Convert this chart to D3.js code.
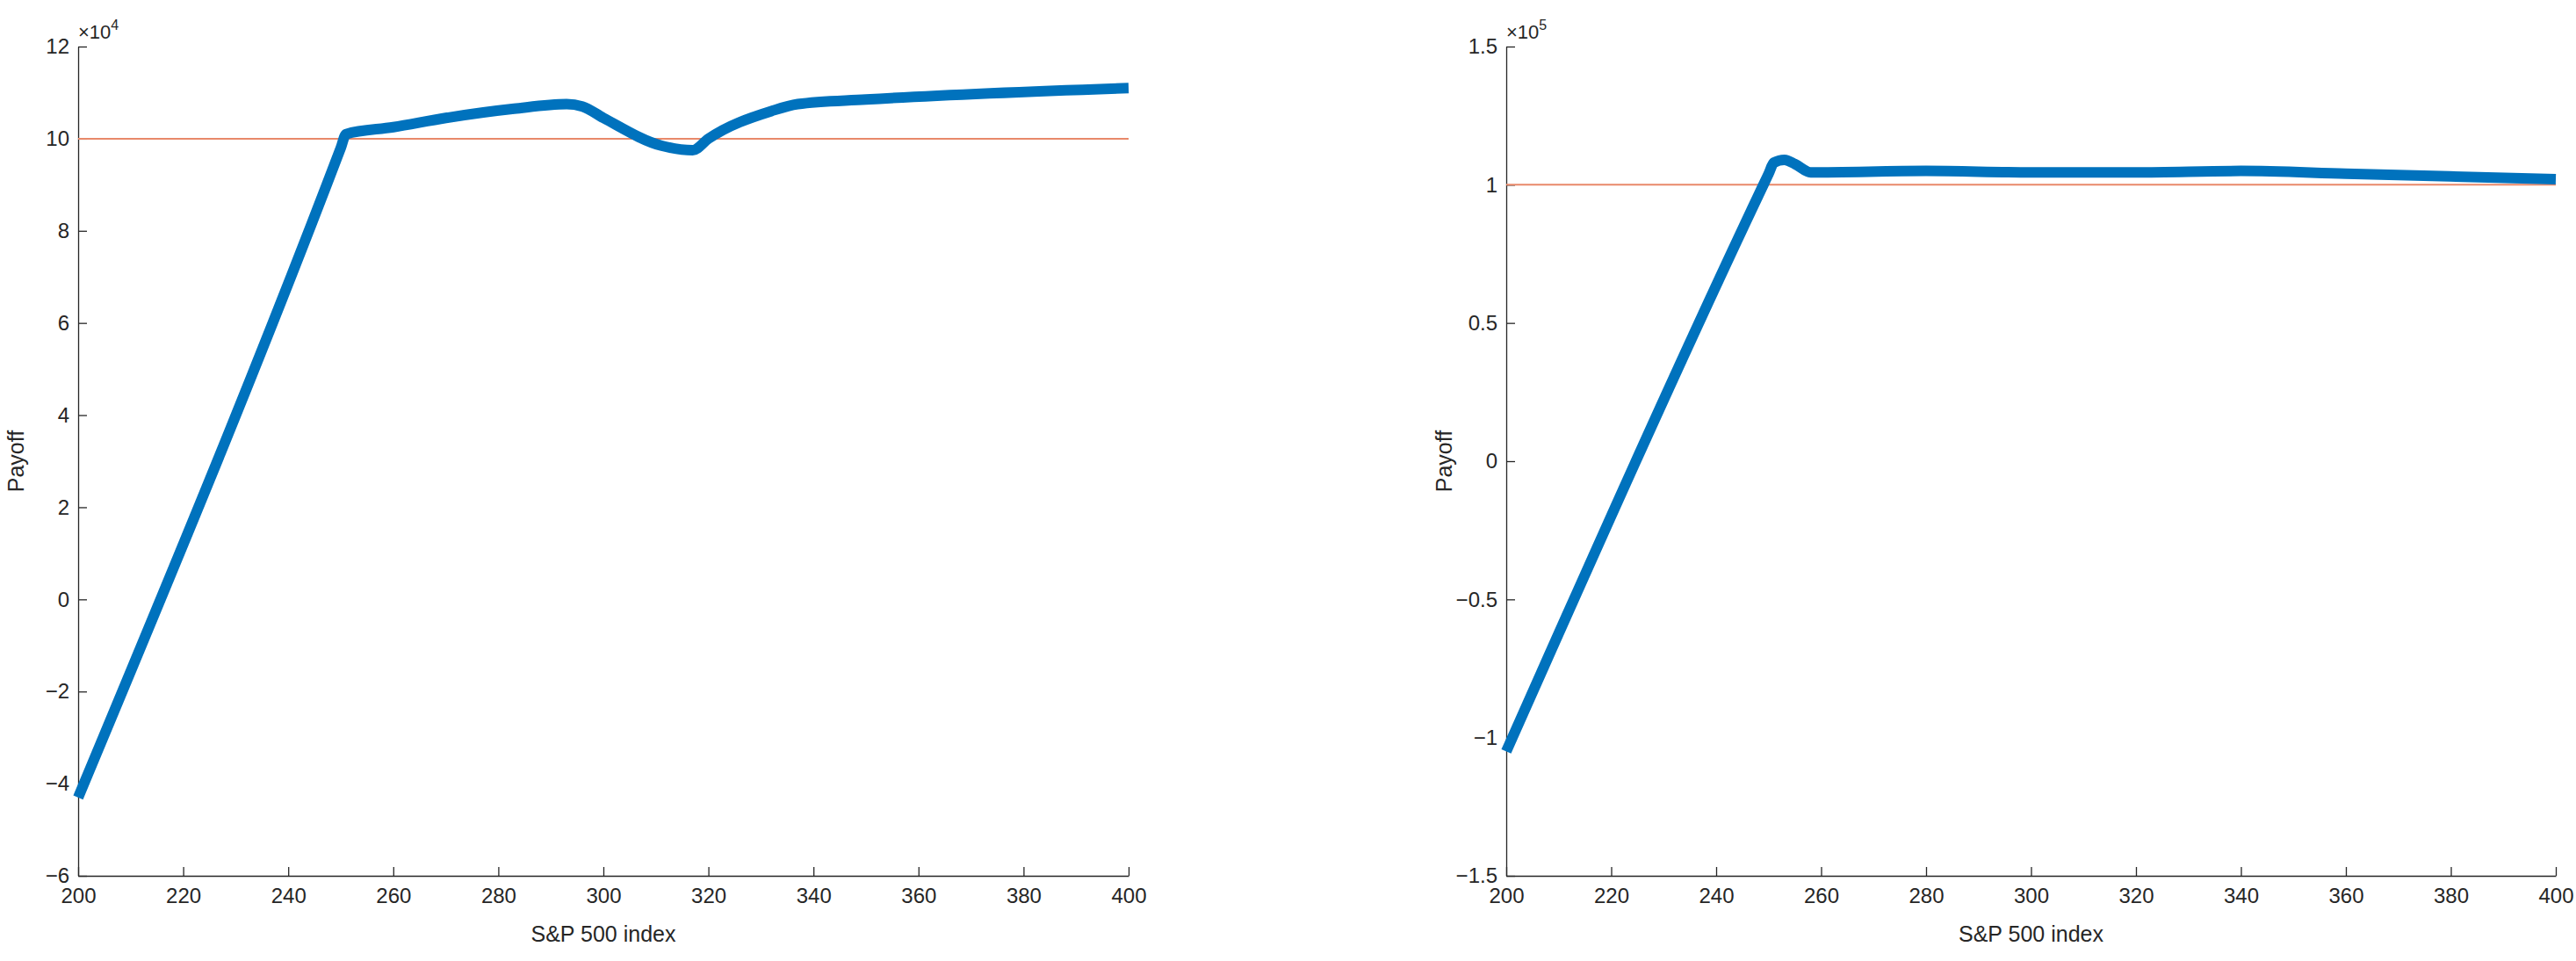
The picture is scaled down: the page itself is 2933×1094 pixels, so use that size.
<!DOCTYPE html>
<html>
<head>
<meta charset="utf-8">
<script src="https://cdn.jsdelivr.net/npm/d3@7"></script>
<style>
body { margin: 0; background: #fff; }
text { font-family: "Liberation Sans", Arial, sans-serif; fill: #262626; }
</style>
</head>
<body>
<script>
// left panel, payoff in units of 1e4
var leftX = [200, 250, 251, 260, 270, 283, 293, 296, 300, 311, 317, 320, 332, 337, 350, 400]
var leftY = [-4.3, 9.8, 10.1, 10.25, 10.45, 10.65, 10.75, 10.7, 10.45, 9.85, 9.75, 10.0, 10.6, 10.75, 10.85, 11.1]
var leftTicks = [-6, -4, -2, 0, 2, 4, 6, 8, 10, 12]

// right panel, payoff in units of 1e5
var rightX = [200, 249, 250, 251, 253, 255, 258, 280, 300, 320, 340, 360, 400]
var rightY = [-1.05, 1.0, 1.04, 1.08, 1.09, 1.075, 1.045, 1.05, 1.045, 1.045, 1.05, 1.04, 1.02]
var rightTicks = [-1.5, -1, -0.5, 0, 0.5, 1, 1.5]

var xTicks = [200, 220, 240, 260, 280, 300, 320, 340, 360, 380, 400]

var svg = d3.select("body").append("svg")
  .attr("width", 2933).attr("height", 1094)

function panel(left, right, xs, ys, yDomain, yTicks, exp, refLevel) {
  var top = 53, bottom = 997
  var x = d3.scaleLinear().domain([200, 400]).range([left, right])
  var y = d3.scaleLinear().domain(yDomain).range([bottom, top])
  var g = svg.append("g")

  var xAxis = g.append("g").attr("transform", "translate(0," + bottom + ")")
    .call(d3.axisBottom(x).tickValues(xTicks).tickSizeInner(-10).tickSizeOuter(0).tickPadding(14))
  var yAxis = g.append("g").attr("transform", "translate(" + left + ",0)")
    .call(d3.axisLeft(y).tickValues(yTicks).tickSizeInner(-10).tickSizeOuter(0).tickPadding(10).tickFormat(d3.format("")))
  g.selectAll(".domain, .tick line").attr("stroke", "#262626").attr("stroke-width", 1.3)
  g.selectAll(".tick text").style("font-size", "24px").attr("fill", "#262626")

  g.append("line")
    .attr("x1", x(200)).attr("x2", x(400))
    .attr("y1", y(refLevel)).attr("y2", y(refLevel))
    .attr("stroke", "#E8896A").attr("stroke-width", 2)

  var line = d3.line().x(function(d) { return x(d[0]) }).y(function(d) { return y(d[1]) })
    .curve(d3.curveMonotoneX)
  g.append("path").datum(d3.zip(xs, ys))
    .attr("d", line).attr("fill", "none")
    .attr("stroke", "#0072BD").attr("stroke-width", 12)

  g.append("text").attr("x", (left + right) / 2).attr("y", 1072)
    .attr("text-anchor", "middle").style("font-size", "25px").text("S&P 500 index")
  g.append("text").attr("transform", "translate(" + (left - 62) + "," + ((top + bottom) / 2) + ") rotate(-90)")
    .attr("text-anchor", "middle").style("font-size", "25px").text("Payoff")

  var e = g.append("text").attr("x", left).attr("y", 44).style("font-size", "22px")
  e.append("tspan").text("\u00d710")
  e.append("tspan").attr("dy", -10).style("font-size", "16px").text(exp)
}

panel(89, 1285, leftX, leftY, [-6, 12], leftTicks, "4", 10)
panel(1715, 2910, rightX, rightY, [-1.5, 1.5], rightTicks, "5", 1)
</script>
</body>
</html>
